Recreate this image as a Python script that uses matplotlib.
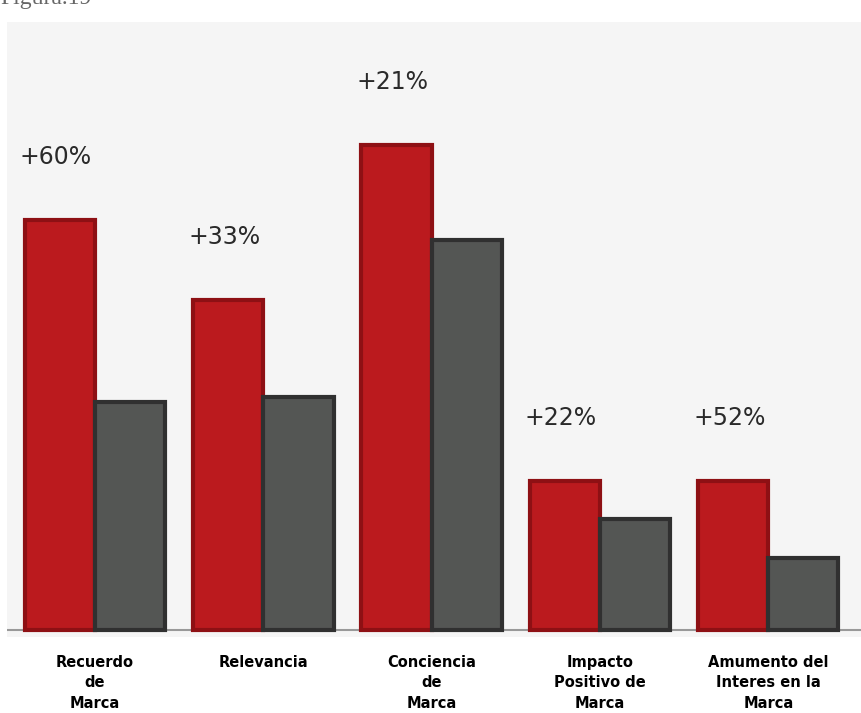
import numpy as np
import matplotlib.pyplot as plt

# --- Data (arbitrary height units) ---
categories = ['Recuerdo\nde\nMarca', 'Relevancia', 'Conciencia\nde\nMarca',
              'Impacto\nPositivo de\nMarca', 'Amumento del\nInteres en la\nMarca']
red_values = [410, 330, 485, 149, 149]
gray_values = [228, 233, 390, 111, 72]
labels = ['+60%', '+33%', '+21%', '+22%', '+52%']

W, H = 861, 713
fig = plt.figure(figsize=(W / 100, H / 100), dpi=100)
fig.patch.set_facecolor('white')

# axes placed in pixel terms: panel from x=7..861, y=22..637
ax = fig.add_axes([7 / W, 1 - 637 / H, (W - 7) / W, (637 - 22) / H])
ax.set_facecolor('#f5f5f5')

x = np.arange(len(categories))
w = 0.417
ax.bar(x - w / 2, red_values, width=w, color='#bb1a1e', edgecolor='#8e1014',
       linewidth=3, zorder=2)
ax.bar(x + w / 2, gray_values, width=w, color='#545654', edgecolor='#303030',
       linewidth=3, zorder=2)
ax.axhline(0, color='#999999', linewidth=1.5, zorder=1)

for i, (v, lab) in enumerate(zip(red_values, labels)):
    ax.text(i - w - 0.03, v + 63, lab, ha='left', va='center',
            fontsize=17, color='#2a2a2a')

ax.set_xlim(-88 / 168.25, (861 - 95) / 168.25 - 0.002)
ax.set_ylim(-7, 608)
ax.set_yticks([])
ax.set_xticks(x)
ax.set_xticklabels(categories, fontsize=10.5, fontweight='bold',
                   multialignment='center', linespacing=1.45)
ax.tick_params(axis='x', length=0, pad=13)
for s in ax.spines.values():
    s.set_visible(False)

# cropped caption at the very top (cut off in the original as well)
fig.text(0.0, 1 - 4 / H, 'Figura.19', fontsize=17, family='Liberation Serif',
         color='#666666', ha='left', va='baseline')

fig.savefig('out.png', dpi=100, facecolor='white')
